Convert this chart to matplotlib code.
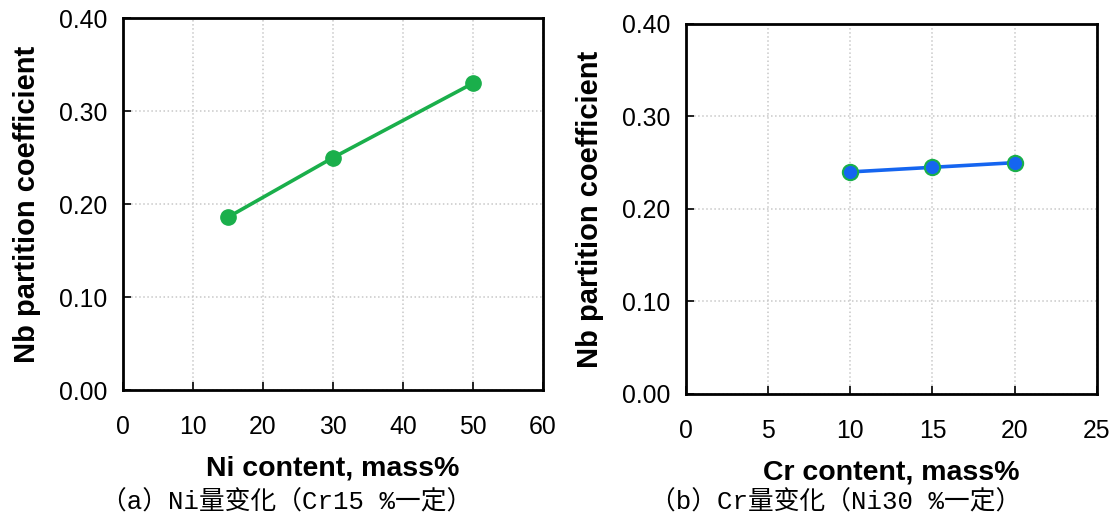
import matplotlib.pyplot as plt

plt.rcParams['font.family'] = ['Liberation Sans', 'DejaVu Sans']

# (a) Ni content vs Nb partition coefficient, Cr 15%
ni_content = [15, 30, 50]
ni_coef = [0.186, 0.250, 0.330]

# (b) Cr content vs Nb partition coefficient, Ni 30%
cr_content = [10, 15, 20]
cr_coef = [0.240, 0.245, 0.250]

y_ticks = [0.0, 0.1, 0.2, 0.3, 0.4]
ni_ticks = [0, 10, 20, 30, 40, 50, 60]
cr_ticks = [0, 5, 10, 15, 20, 25]

captions = ["（a）Ni量变化（Cr15 %一定）", "（b）Cr量变化（Ni30 %一定）"]
xlabels = ["Ni content, mass%", "Cr content, mass%"]

fig = plt.figure(figsize=(11.17, 5.21), dpi=100)
ax1 = fig.add_axes([0.110, 0.251, 0.376, 0.714])
ax2 = fig.add_axes([0.614, 0.244, 0.368, 0.710])

green = '#1aaf4b'
blue = '#1565f0'

ax1.plot(ni_content, ni_coef, color=green, lw=2.6, marker='o', ms=11,
         mfc=green, mec=green, zorder=3)
ax2.plot(cr_content, cr_coef, color=blue, lw=2.6, marker='o', ms=11,
         mfc=blue, mec=green, mew=1.5, zorder=3)

for ax, xt, xl in [(ax1, ni_ticks, xlabels[0]), (ax2, cr_ticks, xlabels[1])]:
    ax.set_xlim(xt[0], xt[-1])
    ax.set_ylim(0, 0.4)
    ax.set_xticks(xt)
    ax.set_yticks(y_ticks)
    ax.set_yticklabels([f"{v:.2f}" for v in y_ticks])
    ax.grid(True, color='#c8c8c8', ls=':', lw=1.1)
    ax.set_axisbelow(True)
    for s in ax.spines.values():
        s.set_linewidth(2.0)
    ax.tick_params(axis='both', direction='in', length=6, width=1.2,
                   labelsize=17.8, top=False, right=False)
    ax.tick_params(axis='x', pad=18)
    ax.tick_params(axis='y', pad=11)
    ax.set_xlabel(xl, fontsize=20.5, fontweight='bold', labelpad=12)
    ax.set_ylabel("Nb partition coefficient", fontsize=21, fontweight='bold', labelpad=13)

cap_font = ['Liberation Mono', 'Noto Sans CJK JP', 'DejaVu Sans']
fig.text(0.257, 0.035, captions[0], ha='center', va='center', fontsize=18.5, family=cap_font)
fig.text(0.748, 0.035, captions[1], ha='center', va='center', fontsize=18.5, family=cap_font)

fig.savefig('out.png', dpi=100)
